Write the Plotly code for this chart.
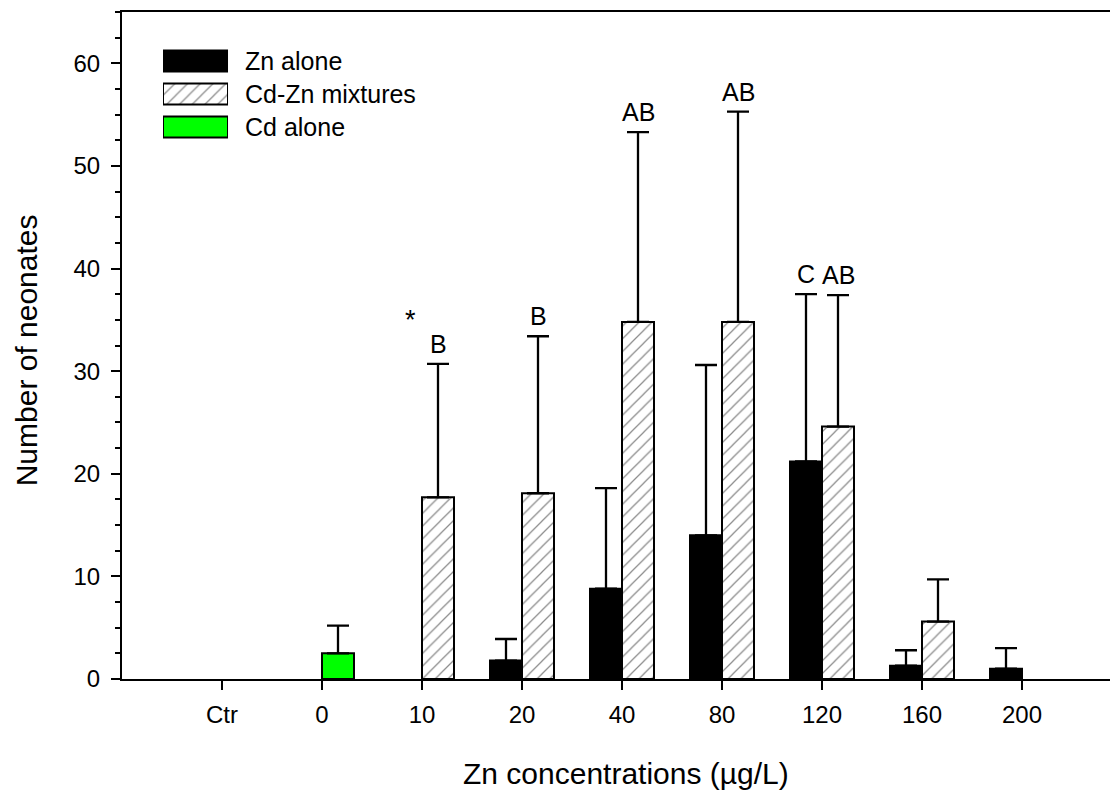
import plotly.graph_objects as go

# Exposure groups on the x axis
categories = ["Ctr", "0", "10", "20", "40", "80", "120", "160", "200"]

# Mean number of neonates (None = no bar drawn) and upper error (SD)
zn_alone = [None, None, None, 1.8, 8.8, 14.0, 21.2, 1.3, 1.0]
zn_alone_err = [0, 0, 0, 2.1, 9.8, 16.6, 16.3, 1.5, 2.0]

cdzn_mix = [None, None, 17.7, 18.1, 34.8, 34.8, 24.6, 5.6, None]
cdzn_mix_err = [0, 0, 13.0, 15.3, 18.5, 20.5, 12.8, 4.1, 0]

cd_alone = [None, 2.5, None, None, None, None, None, None, None]
cd_alone_err = [0, 2.7, 0, 0, 0, 0, 0, 0, 0]

# Significance letters: (category, series, text)
letters = [
    ("10", "mix", "B"),
    ("20", "mix", "B"),
    ("40", "mix", "AB"),
    ("80", "mix", "AB"),
    ("120", "zn", "C"),
    ("120", "mix", "AB"),
]
star_category = "10"

legend_labels = ["Zn alone", "Cd-Zn mixtures", "Cd alone"]

FONT = "Liberation Sans, Arial, sans-serif"
BAR_W = 0.32
OFFSET = BAR_W / 2
idx = list(range(len(categories)))

hatch = dict(shape="/", fgcolor="#1a1a1a", bgcolor="white", size=9,
             solidity=0.14, fillmode="overlay")
outline = dict(color="black", width=2)


def err(values, plus):
    return dict(type="data", array=plus, arrayminus=[0] * len(plus),
                symmetric=False, color="black", thickness=2.3, width=11,
                visible=True)


fig = go.Figure()

fig.add_trace(go.Bar(
    x=[i - OFFSET for i in idx], y=zn_alone, width=BAR_W,
    marker=dict(color="black", line=outline),
    error_y=err(zn_alone, zn_alone_err), showlegend=False, name=legend_labels[0]))

fig.add_trace(go.Bar(
    x=[i + OFFSET for i in idx], y=cdzn_mix, width=BAR_W,
    marker=dict(color="white", line=outline, pattern=hatch),
    error_y=err(cdzn_mix, cdzn_mix_err), showlegend=False, name=legend_labels[1]))

fig.add_trace(go.Bar(
    x=[i + OFFSET for i in idx], y=cd_alone, width=BAR_W,
    marker=dict(color="#00ff00", line=outline),
    error_y=err(cd_alone, cd_alone_err), showlegend=False, name=legend_labels[2]))

# Legend swatches drawn as bars on a small hidden subplot
sw_rows = [0, 1, 2]
fig.add_trace(go.Bar(
    y=[sw_rows[0]], x=[1], base=0, orientation="h", width=0.64,
    marker=dict(color="black", line=outline),
    xaxis="x2", yaxis="y2", showlegend=False, hoverinfo="skip"))
fig.add_trace(go.Bar(
    y=[sw_rows[1]], x=[1], base=0, orientation="h", width=0.64,
    marker=dict(color="white", line=outline, pattern=hatch),
    xaxis="x2", yaxis="y2", showlegend=False, hoverinfo="skip"))
fig.add_trace(go.Bar(
    y=[sw_rows[2]], x=[1], base=0, orientation="h", width=0.64,
    marker=dict(color="#00ff00", line=outline),
    xaxis="x2", yaxis="y2", showlegend=False, hoverinfo="skip"))

annotations = []
for cat, series, text in letters:
    i = categories.index(cat)
    if series == "mix":
        xpos, top = i + OFFSET, cdzn_mix[i] + cdzn_mix_err[i]
    else:
        xpos, top = i - OFFSET, zn_alone[i] + zn_alone_err[i]
    annotations.append(dict(x=xpos, y=top, text=text, showarrow=False,
                            yanchor="bottom", yshift=4,
                            font=dict(family=FONT, size=25, color="black")))

i_star = categories.index(star_category)
annotations.append(dict(x=i_star - 0.12, y=cdzn_mix[i_star] + cdzn_mix_err[i_star],
                        text="*", showarrow=False, yanchor="bottom", yshift=27,
                        font=dict(family=FONT, size=27, color="black")))

for r, label in zip(sw_rows, legend_labels):
    annotations.append(dict(xref="paper", yref="y2", x=0.1225, y=r, text=label,
                            showarrow=False, xanchor="left", yanchor="middle",
                            font=dict(family=FONT, size=25, color="black")))

annotations.append(dict(xref="paper", yref="paper", x=-0.097, y=0.493,
                        text="Number of neonates", textangle=-90, showarrow=False,
                        xanchor="center", yanchor="middle",
                        font=dict(family=FONT, size=30, color="black")))
annotations.append(dict(xref="paper", yref="paper", x=0.51, y=-0.141,
                        text="Zn concentrations (µg/L)", showarrow=False,
                        xanchor="center", yanchor="middle",
                        font=dict(family=FONT, size=30, color="black")))

fig.update_layout(
    width=1110, height=793,
    margin=dict(l=122, r=0, t=12, b=114),
    paper_bgcolor="white", plot_bgcolor="white",
    barmode="overlay",
    font=dict(family=FONT, color="black"),
    annotations=annotations,
    xaxis=dict(
        range=[-1, 8.88], tickmode="array", tickvals=idx, ticktext=categories,
        showline=True, linecolor="black", linewidth=2, mirror=True,
        ticks="outside", ticklen=9, tickwidth=2, tickcolor="black",
        showgrid=False, zeroline=False, ticklabelstandoff=4,
        tickfont=dict(family=FONT, size=24, color="black"),
    ),
    yaxis=dict(
        range=[0, 65], tickmode="linear", tick0=0, dtick=10,
        showline=True, linecolor="black", linewidth=2,
        ticks="outside", ticklen=9, tickwidth=2, tickcolor="black",
        minor=dict(dtick=2.5, ticks="outside", ticklen=5, tickwidth=2,
                   tickcolor="black", showgrid=False),
        showgrid=False, zeroline=False, ticklabelstandoff=6,
        tickfont=dict(family=FONT, size=24, color="black"),
    ),
    xaxis2=dict(domain=[0.0415, 0.1073], range=[0, 1], anchor="y2",
                visible=False, fixedrange=True),
    yaxis2=dict(domain=[(679 - 143.5) / 667, (679 - 44.5) / 667],
                range=[2.5, -0.5], anchor="x2", visible=False, fixedrange=True),
)

fig.write_html("out.html")
